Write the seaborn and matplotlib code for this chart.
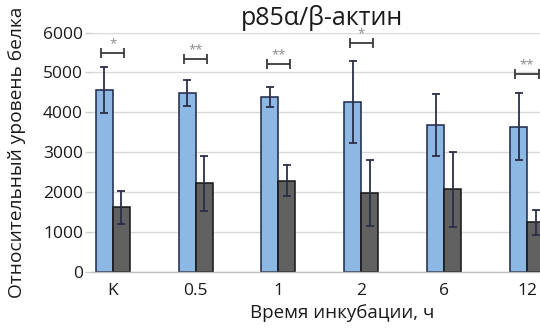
import numpy as np
import pandas as pd
import matplotlib
matplotlib.use("Agg")
import matplotlib.pyplot as plt
import seaborn as sns

# categories (incubation time) and the two series
categories = ["K", "0.5", "1", "2", "6", "12"]
series_names = ["ряд 1", "ряд 2"]
blue_vals = [4550, 4480, 4380, 4260, 3690, 3635]
blue_err = [575, 325, 250, 1035, 780, 840]
dark_vals = [1625, 2220, 2290, 1980, 2075, 1245]
dark_err = [410, 690, 385, 815, 940, 320]

# significance marks
sig_cats = ["K", "0.5", "1", "2", "12"]
sig_text = ["*", "**", "**", "*", "**"]
sig_y = [5480, 5340, 5220, 5730, 4950]

df = pd.DataFrame({
    "cat": categories * 2,
    "series": [series_names[0]] * 6 + [series_names[1]] * 6,
    "value": blue_vals + dark_vals,
})

sns.set_style("white")
plt.rcParams["font.family"] = ["Open Sans", "DejaVu Sans"]

fig = plt.figure(figsize=(5.4, 3.31), dpi=100)
ax = fig.add_axes([0.1704, 0.1782, 0.9207, 0.7236])

palette = {series_names[0]: "#8db8e3", series_names[1]: "#616161"}
sns.barplot(data=df, x="cat", y="value", hue="series", order=categories,
            hue_order=series_names, palette=palette, width=0.41,
            saturation=1, errorbar=None, legend=False, ax=ax, zorder=2)

edge = {0: "#1d2747", 1: "#151515"}
errs = [blue_err, dark_err]
vals = [blue_vals, dark_vals]
bar_containers = list(ax.containers)
for k, cont in enumerate(bar_containers):
    xs = []
    for p in cont.patches:
        p.set_edgecolor(edge[k])
        p.set_linewidth(1.1)
        xs.append(p.get_x() + p.get_width() / 2)
    ax.errorbar(xs, vals[k], yerr=errs[k], fmt="none", ecolor="#2b2e48",
                elinewidth=1.3, capsize=3, capthick=1.3, zorder=3)

# significance brackets
for c, t, y in zip(sig_cats, sig_text, sig_y):
    i = categories.index(c)
    ax.errorbar(i, y, xerr=0.14, fmt="none", ecolor="#3a3a3a",
                elinewidth=1.3, capsize=3.5, capthick=1.3, zorder=3)
    ax.text(i, y + 230, t, ha="center", va="center", fontsize=9.5,
            color="#8a8a8a")

ax.set_ylim(0, 6000)
ax.set_xlim(-0.25, 5.75)
ax.set_yticks(np.arange(0, 6001, 1000))
ax.yaxis.grid(True, color="#d9d9d9", linewidth=1)
ax.set_axisbelow(True)
for s in ["left", "right", "top"]:
    ax.spines[s].set_visible(False)
ax.spines["bottom"].set_color("#bfbfbf")
ax.spines["bottom"].set_linewidth(1)

ax.set_xticks(np.arange(-0.25, 5.76, 0.5), minor=True)
ax.tick_params(axis="x", which="minor", length=4, color="#bfbfbf", width=1)
ax.tick_params(axis="x", which="major", length=0, pad=8, labelsize=12.5,
               labelcolor="#1a1a1a")
ax.tick_params(axis="y", length=5, color="#d0d0d0", width=1, pad=1.5,
               labelsize=12.5, labelcolor="#1a1a1a", left=True)
ax.set_xlabel("")
ax.set_ylabel("")

fig.text(322 / 540, 1 - 18 / 331, "p85α/β-актин", ha="center", va="center",
         fontsize=18, color="#1a1a1a")
fig.text(342 / 540, 1 - 313 / 331, "Время инкубации, ч", ha="center",
         va="center", fontsize=13.5, color="#1a1a1a")
fig.text(17 / 540, 1 - 152 / 331, "Относительный уровень белка", ha="center",
         va="center", rotation=90, fontsize=13.8, color="#1a1a1a")

fig.savefig("out.png", dpi=100)
